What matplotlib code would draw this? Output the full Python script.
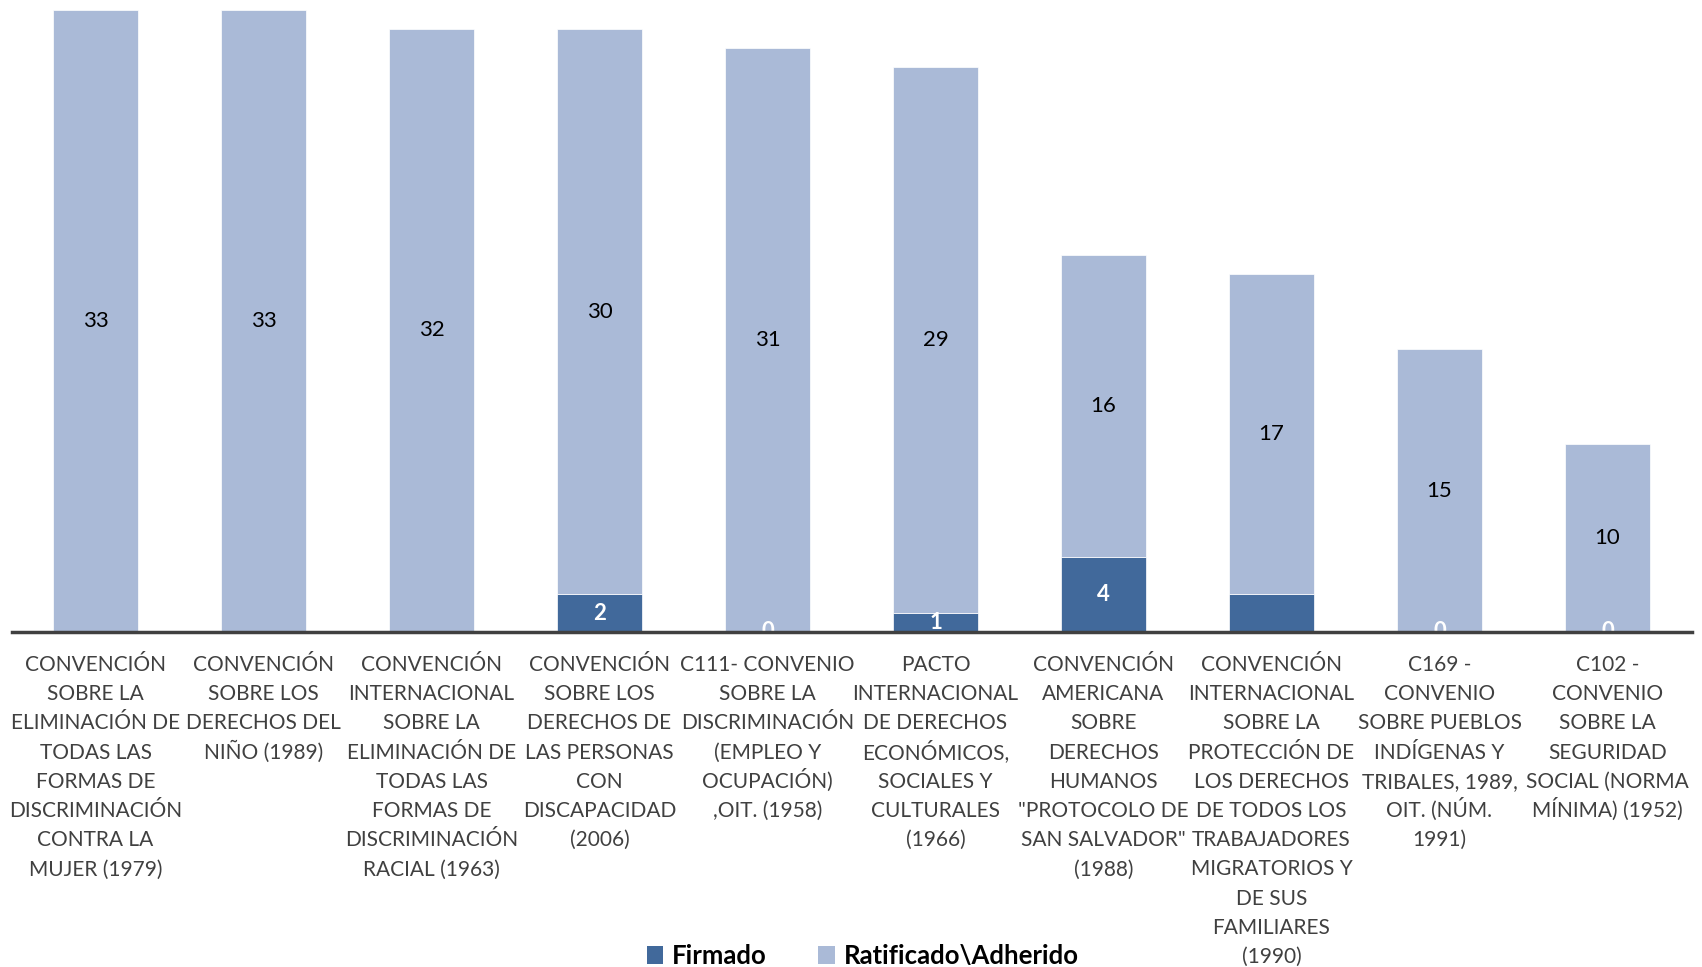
import matplotlib
matplotlib.use("Agg")
import matplotlib.pyplot as plt
import matplotlib.transforms as mtransforms
from matplotlib.patches import Patch

plt.rcParams['font.family'] = ['Lato', 'DejaVu Sans']

categories = [
    "CONVENCIÓN\nSOBRE LA\nELIMINACIÓN DE\nTODAS LAS\nFORMAS DE\nDISCRIMINACIÓN\nCONTRA LA\nMUJER (1979)",
    "CONVENCIÓN\nSOBRE LOS\nDERECHOS DEL\nNIÑO (1989)",
    "CONVENCIÓN\nINTERNACIONAL\nSOBRE LA\nELIMINACIÓN DE\nTODAS LAS\nFORMAS DE\nDISCRIMINACIÓN\nRACIAL (1963)",
    "CONVENCIÓN\nSOBRE LOS\nDERECHOS DE\nLAS PERSONAS\nCON\nDISCAPACIDAD\n(2006)",
    "C111- CONVENIO\nSOBRE LA\nDISCRIMINACIÓN\n(EMPLEO Y\nOCUPACIÓN)\n,OIT. (1958)",
    "PACTO\nINTERNACIONAL\nDE DERECHOS\nECONÓMICOS,\nSOCIALES Y\nCULTURALES\n(1966)",
    "CONVENCIÓN\nAMERICANA\nSOBRE\nDERECHOS\nHUMANOS\n\"PROTOCOLO DE\nSAN SALVADOR\"\n(1988)",
    "CONVENCIÓN\nINTERNACIONAL\nSOBRE LA\nPROTECCIÓN DE\nLOS DERECHOS\nDE TODOS LOS\nTRABAJADORES\nMIGRATORIOS Y\nDE SUS\nFAMILIARES\n(1990)",
    "C169 -\nCONVENIO\nSOBRE PUEBLOS\nINDÍGENAS Y\nTRIBALES, 1989,\nOIT. (NÚM.\n1991)",
    "C102 -\nCONVENIO\nSOBRE LA\nSEGURIDAD\nSOCIAL (NORMA\nMÍNIMA) (1952)",
]

firmado = [0, 0, 0, 2, 0, 1, 4, 2, 0, 0]
firmado_labels = [None, None, None, "2", "0", "1", "4", None, "0", "0"]
ratificado = [33, 33, 32, 30, 31, 29, 16, 17, 15, 10]

dark = "#41699B"
light = "#AABAD7"

fig = plt.figure(figsize=(17.02, 9.67), dpi=100)
ax = fig.add_axes([11.5 / 1702, 1 - 632 / 967, 1680 / 1702, 622 / 967])

x = list(range(len(categories)))
ax.bar(x, firmado, width=0.51, color=dark, edgecolor="white", linewidth=0.5)
ax.bar(x, ratificado, bottom=firmado, width=0.51, color=light,
       edgecolor="white", linewidth=0.5)

for i in x:
    lab = firmado_labels[i]
    if lab is not None:
        ax.text(i, firmado[i] / 2, lab, ha="center", va="center",
                color="white", fontsize=16, fontweight="bold", zorder=3)
    ax.text(i, firmado[i] + ratificado[i] / 2, str(ratificado[i]),
            ha="center", va="center", color="black", fontsize=16, zorder=3)

ax.set_xlim(-0.5, len(categories) - 0.5)
ax.set_ylim(0, 33)
ax.set_xticks([])
ax.set_yticks([])

# category labels drawn line by line so accents don't upset the spacing
base = ax.get_xaxis_transform()
for i, cat in enumerate(categories):
    for k, line in enumerate(cat.split("\n")):
        off = mtransforms.ScaledTranslation(0, -(39 + 29.2 * k) / 100, fig.dpi_scale_trans)
        ax.text(i, 0, line, transform=base + off, ha="center", va="baseline",
                fontsize=15, color="#404040", clip_on=False)

for s in ["top", "right", "left"]:
    ax.spines[s].set_visible(False)
ax.spines["bottom"].set_color("#404040")
ax.spines["bottom"].set_linewidth(2.5)
ax.spines["bottom"].set_zorder(5)

handles = [Patch(facecolor=dark, label="Firmado"),
           Patch(facecolor=light, label="Ratificado\\Adherido")]
fig.legend(handles=handles, loc="lower center", bbox_to_anchor=(0.507, -0.025),
           ncol=2, frameon=False, prop={"size": 18.5, "weight": "bold"},
           handlelength=0.65, handleheight=0.65, handletextpad=0.35, columnspacing=2.0)

fig.savefig("out.png", dpi=100)
